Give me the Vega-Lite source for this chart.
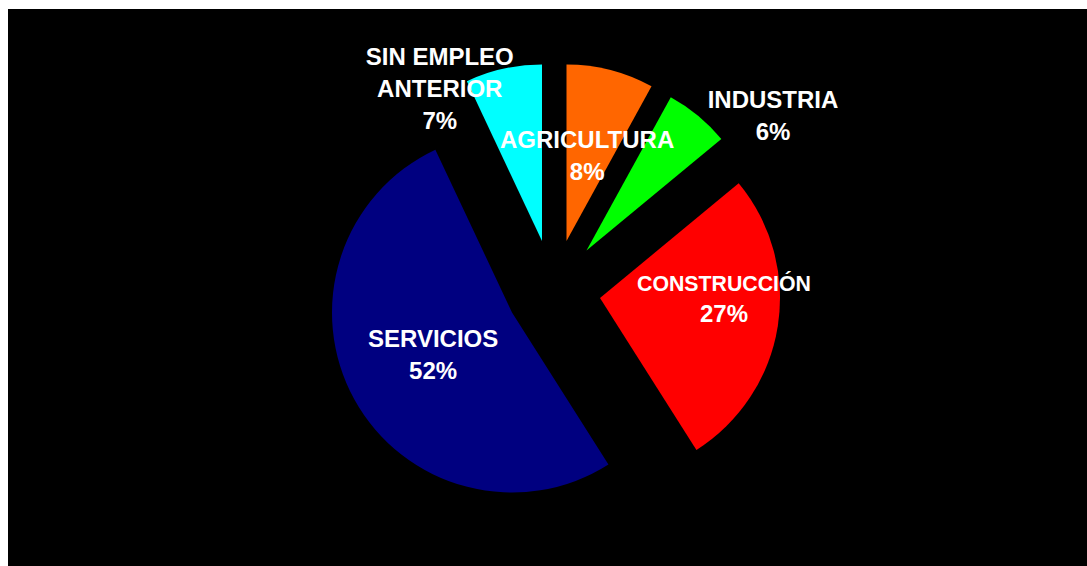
{
  "$schema": "https://vega.github.io/schema/vega-lite/v6.json",
  "width": 1087,
  "height": 566,
  "autosize": {"type": "fit", "contains": "padding"},
  "padding": {"left": 8, "top": 9, "right": 0, "bottom": 0},
  "background": "white",
  "view": {"fill": "black", "stroke": null},
  "config": {"view": {"fill": "black", "stroke": null}},
  "data": {
    "values": [
      {"sector": "AGRICULTURA", "pct": 8, "order": 1, "label": "AGRICULTURA|8%", "name": "AGRICULTURA", "share": "8%"},
      {"sector": "INDUSTRIA", "pct": 6, "order": 2, "label": "INDUSTRIA|6%", "name": "INDUSTRIA", "share": "6%"},
      {"sector": "CONSTRUCCIÓN", "pct": 27, "order": 3, "label": "CONSTRUCCIÓN|27%", "name": "CONSTRUCCIÓN", "share": "27%"},
      {"sector": "SERVICIOS", "pct": 52, "order": 4, "label": "SERVICIOS|52%", "name": "SERVICIOS", "share": "52%"},
      {"sector": "SIN EMPLEO ANTERIOR", "pct": 7, "order": 5, "label": "SIN EMPLEO|ANTERIOR|7%", "name": "SIN EMPLEO ANTERIOR", "share": "7%"}
    ]
  },
  "transform": [
    {"stack": "pct", "groupby": [], "sort": [{"field": "order", "order": "ascending"}], "as": ["v0", "v1"]}
  ],
  "layer": [
    {
      "transform": [{"filter": "datum.sector === 'AGRICULTURA'"}],
      "mark": {"type": "arc", "radius": 176.5, "xOffset": 19, "yOffset": -46.5, "color": "#FF6600"},
      "encoding": {"theta": {"field": "v0", "type": "quantitative", "scale": {"domain": [0, 100]}}, "theta2": {"field": "v1"}}
    },
    {
      "transform": [{"filter": "datum.sector === 'INDUSTRIA'"}],
      "mark": {"type": "arc", "radius": 175, "xOffset": 39, "yOffset": -37, "color": "#00FF00"},
      "encoding": {"theta": {"field": "v0", "type": "quantitative", "scale": {"domain": [0, 100]}}, "theta2": {"field": "v1"}}
    },
    {
      "transform": [{"filter": "datum.sector === 'CONSTRUCCIÓN'"}],
      "mark": {"type": "arc", "radius": 180, "xOffset": 52.5, "yOffset": 10.5, "color": "#FF0000"},
      "encoding": {"theta": {"field": "v0", "type": "quantitative", "scale": {"domain": [0, 100]}}, "theta2": {"field": "v1"}}
    },
    {
      "transform": [{"filter": "datum.sector === 'SERVICIOS'"}],
      "mark": {"type": "arc", "radius": 180, "xOffset": -35.5, "yOffset": 25, "color": "#000080"},
      "encoding": {"theta": {"field": "v0", "type": "quantitative", "scale": {"domain": [0, 100]}}, "theta2": {"field": "v1"}}
    },
    {
      "transform": [{"filter": "datum.sector === 'SIN EMPLEO ANTERIOR'"}],
      "mark": {"type": "arc", "radius": 176.5, "xOffset": -5.5, "yOffset": -46.5, "color": "#00FFFF"},
      "encoding": {"theta": {"field": "v0", "type": "quantitative", "scale": {"domain": [0, 100]}}, "theta2": {"field": "v1"}}
    },
    {
      "mark": {"type": "text", "radius": 87, "xOffset": 19, "yOffset": -46.5, "dx": -1, "dy": -16, "color": "white", "font": "Liberation Sans", "fontSize": 24, "fontWeight": "bold", "lineBreak": "|", "lineHeight": 32, "align": "center", "baseline": "middle"},
      "encoding": {
        "theta": {"field": "pct", "type": "quantitative", "stack": true, "scale": {"domain": [0, 100]}},
        "order": {"field": "order", "type": "quantitative"},
        "text": {"condition": {"test": "datum.sector === 'AGRICULTURA'", "field": "label"}, "value": ""}
      }
    },
    {
      "mark": {"type": "text", "radius": 200, "xOffset": 39, "yOffset": -37, "dx": 59, "dy": 5, "color": "white", "font": "Liberation Sans", "fontSize": 24, "fontWeight": "bold", "lineBreak": "|", "lineHeight": 32, "align": "center", "baseline": "middle"},
      "encoding": {
        "theta": {"field": "pct", "type": "quantitative", "stack": true, "scale": {"domain": [0, 100]}},
        "order": {"field": "order", "type": "quantitative"},
        "text": {"condition": {"test": "datum.sector === 'INDUSTRIA'", "field": "label"}, "value": ""}
      }
    },
    {
      "mark": {"type": "text", "radius": 123, "xOffset": 52.5, "yOffset": 10.5, "dx": 2.5, "dy": -32.5, "color": "white", "font": "Liberation Sans", "fontSize": 21.3, "fontWeight": "bold", "align": "center", "baseline": "middle"},
      "encoding": {
        "theta": {"field": "pct", "type": "quantitative", "stack": true, "scale": {"domain": [0, 100]}},
        "order": {"field": "order", "type": "quantitative"},
        "text": {"condition": {"test": "datum.sector === 'CONSTRUCCIÓN'", "field": "name"}, "value": ""}
      }
    },
    {
      "mark": {"type": "text", "radius": 123, "xOffset": 52.5, "yOffset": 10.5, "dx": 2.5, "dy": -2, "color": "white", "font": "Liberation Sans", "fontSize": 24, "fontWeight": "bold", "align": "center", "baseline": "middle"},
      "encoding": {
        "theta": {"field": "pct", "type": "quantitative", "stack": true, "scale": {"domain": [0, 100]}},
        "order": {"field": "order", "type": "quantitative"},
        "text": {"condition": {"test": "datum.sector === 'CONSTRUCCIÓN'", "field": "share"}, "value": ""}
      }
    },
    {
      "mark": {"type": "text", "radius": 90, "xOffset": -35.5, "yOffset": 25, "dy": -16, "color": "white", "font": "Liberation Sans", "fontSize": 24, "fontWeight": "bold", "lineBreak": "|", "lineHeight": 32, "align": "center", "baseline": "middle"},
      "encoding": {
        "theta": {"field": "pct", "type": "quantitative", "stack": true, "scale": {"domain": [0, 100]}},
        "order": {"field": "order", "type": "quantitative"},
        "text": {"condition": {"test": "datum.sector === 'SERVICIOS'", "field": "label"}, "value": ""}
      }
    },
    {
      "mark": {"type": "text", "radius": 180, "xOffset": -5.5, "yOffset": -46.5, "dx": -63, "dy": -7, "color": "white", "font": "Liberation Sans", "fontSize": 24, "fontWeight": "bold", "lineBreak": "|", "lineHeight": 32, "align": "center", "baseline": "middle"},
      "encoding": {
        "theta": {"field": "pct", "type": "quantitative", "stack": true, "scale": {"domain": [0, 100]}},
        "order": {"field": "order", "type": "quantitative"},
        "text": {"condition": {"test": "datum.sector === 'SIN EMPLEO ANTERIOR'", "field": "label"}, "value": ""}
      }
    }
  ]
}
